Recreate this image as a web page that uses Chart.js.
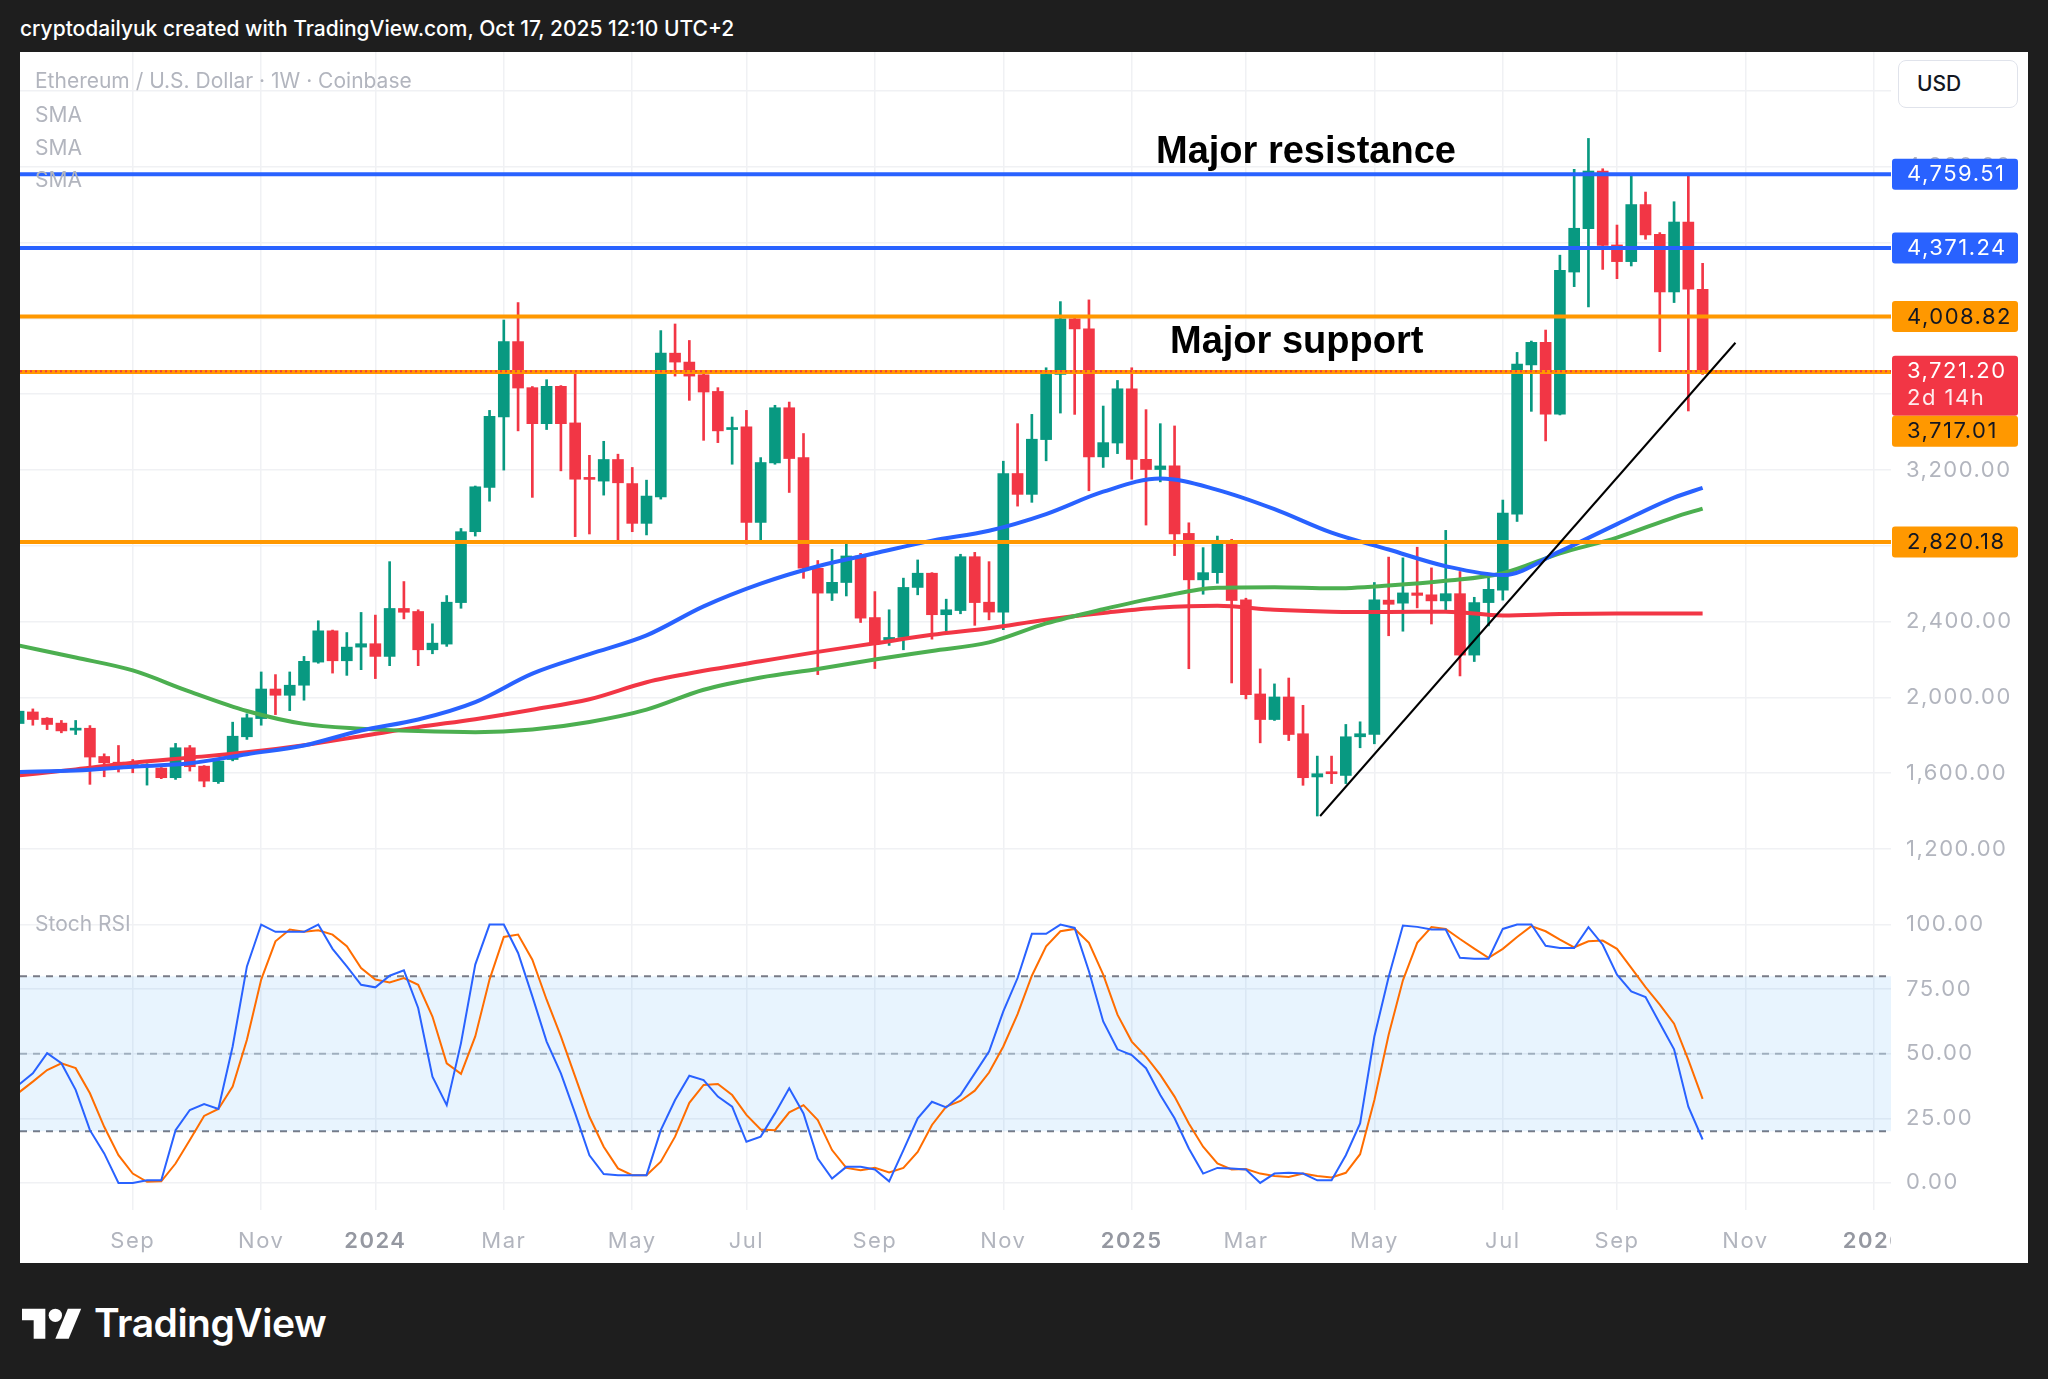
<!DOCTYPE html>
<html lang="en">
<head>
<meta charset="utf-8">
<title>Ethereum / U.S. Dollar 1W</title>
<script src="https://cdn.jsdelivr.net/npm/chart.js@4.4.1/dist/chart.umd.min.js"></script>
<style>
  html, body { margin: 0; padding: 0; }
  body {
    width: 2048px; height: 1379px; overflow: hidden; position: relative;
    background: #1e1e1e; font-family: Inter, "Noto Sans", sans-serif;
  }
  .snap-title { position: absolute; left: 20px; top: 15px; color: #fff; font-size: 21px; font-weight: 500; line-height: 28px; white-space: nowrap; }
  .panel { position: absolute; left: 20px; top: 52px; width: 2008px; height: 1211px; background: #fff; overflow: hidden; }
  .panel canvas { position: absolute; left: 0; }
  #priceChart { top: 0; }
  #rsiChart { top: 840px; }
  .legend { position: absolute; left: 15px; color: #b2b5be; font-size: 21px; line-height: 26px; white-space: nowrap; }
  .note { position: absolute; color: #000; font-family: "Liberation Sans", Arial, sans-serif; font-weight: bold; font-size: 38px; line-height: 44px; white-space: nowrap; }
  .usd { position: absolute; left: 1878px; top: 8px; width: 118px; height: 46px; border: 1px solid #e0e3eb; border-radius: 8px; background: #fff;
         color: #131722; font-size: 21px; font-weight: 500; line-height: 46px; text-indent: 18px; }
  .brand { position: absolute; left: 22px; top: 1300px; height: 44px; display: flex; align-items: center; color: #fff; }
  .brand span { font-size: 39px; font-weight: 600; letter-spacing: -0.5px; margin-left: 12px; }
</style>
</head>
<body>
<div class="snap-title">cryptodailyuk created with TradingView.com, Oct 17, 2025 12:10 UTC+2</div>

<div class="panel">
  <canvas id="priceChart" width="2008" height="840"></canvas>
  <canvas id="rsiChart" width="2008" height="371"></canvas>

  <div class="legend" style="top:16px">Ethereum / U.S. Dollar · 1W · Coinbase</div>
  <div class="legend" style="top:50px">SMA</div>
  <div class="legend" style="top:83px">SMA</div>
  <div class="legend" style="top:115px">SMA</div>
  <div class="note" style="left:1136px; top:76px">Major resistance</div>
  <div class="note" style="left:1150px; top:266px">Major support</div>
  <div class="usd">USD</div>
  <div class="legend" style="top:859px">Stoch RSI</div>
</div>

<div class="brand">
  <svg width="60" height="34" viewBox="0 0 36 20" fill="#fff">
    <path d="M14 20H7V9H0V2h14v18z"/>
    <circle cx="20" cy="6" r="4"/>
    <path d="M28 20h-8l7.5-18h8L28 20z"/>
  </svg>
  <span>TradingView</span>
</div>

<script>
'use strict';

// weekly candles, first week = 10 Jul 2023, last = 13 Oct 2025 (x = week index)
var opens = [
  1862, 1923, 1890, 1864, 1827, 1837, 1688, 1658, 1650, 1634,
  1627, 1576, 1734, 1637, 1555, 1672, 1792, 1888, 2044, 2011,
  2064, 2186, 2351, 2193, 2265, 2283, 2216, 2469, 2453, 2251,
  2281, 2500, 2874, 3107, 3479, 3877, 3634, 3444, 3641, 3448,
  3155, 3141, 3255, 3128, 2918, 3058, 3816, 3769, 3702, 3614,
  3413, 3427, 2923, 3237, 3528, 3265, 2681, 2550, 2606, 2746,
  2421, 2304, 2316, 2580, 2655, 2436, 2458, 2742, 2502, 2450,
  3181, 3071, 3360, 3704, 3997, 3944, 3269, 3342, 3628, 3256,
  3202, 3221, 2865, 2620, 2658, 2816, 2514, 2018, 1883, 2002,
  1808, 1580, 1602, 1588, 1792, 1804, 2513, 2497, 2551, 2541,
  2509, 2547, 2223, 2500, 2566, 2966, 3754, 3873, 3494, 4244,
  4473, 4777, 4387, 4299, 4600, 4443, 4139, 4508, 4153
];
var highs = [
  1940, 1939, 1893, 1878, 1878, 1851, 1702, 1746, 1672, 1650,
  1630, 1757, 1746, 1640, 1672, 1869, 1913, 2134, 2120, 2134,
  2216, 2404, 2355, 2342, 2448, 2434, 2716, 2611, 2462, 2388,
  2537, 2891, 3115, 3514, 3991, 4083, 3640, 3676, 3645, 3716,
  3277, 3351, 3283, 3213, 3146, 3935, 3970, 3883, 3705, 3634,
  3479, 3514, 3265, 3541, 3558, 3392, 2722, 2781, 2816, 2760,
  2558, 2462, 2629, 2725, 2658, 2518, 2755, 2765, 2716, 3246,
  3444, 3493, 3739, 4088, 4002, 4097, 3537, 3672, 3739, 3518,
  3444, 3432, 2921, 2790, 2851, 2834, 2523, 2150, 2071, 2102,
  1958, 1690, 1690, 1857, 1871, 2606, 2740, 2736, 2792, 2683,
  2881, 2664, 2528, 2632, 3041, 3820, 3880, 3938, 4333, 4786,
  4949, 4789, 4492, 4759, 4666, 4452, 4615, 4756, 4290
];
var lows = [
  1850, 1853, 1830, 1813, 1804, 1541, 1581, 1606, 1602, 1537,
  1571, 1567, 1611, 1528, 1546, 1665, 1778, 1853, 1909, 1930,
  1985, 2180, 2128, 2116, 2146, 2099, 2167, 2414, 2167, 2230,
  2269, 2470, 2851, 3035, 3199, 3406, 3055, 3413, 3195, 2848,
  2862, 3067, 2813, 2874, 2857, 3046, 3695, 3567, 3356, 3344,
  3230, 2809, 2818, 3230, 3081, 2628, 2120, 2511, 2535, 2395,
  2152, 2274, 2251, 2541, 2307, 2348, 2441, 2380, 2409, 2357,
  3009, 3029, 3248, 3500, 3493, 3090, 3213, 3286, 3151, 2909,
  3137, 2748, 2151, 2544, 2602, 2076, 1992, 1760, 1878, 1772,
  1536, 1374, 1545, 1545, 1734, 1755, 2325, 2349, 2472, 2387,
  2453, 2113, 2189, 2377, 2513, 2928, 3509, 3353, 3490, 4167,
  4060, 4258, 4209, 4276, 4417, 3824, 4083, 3511, 3704
];
var closes = [
  1927, 1883, 1857, 1823, 1837, 1685, 1655, 1643, 1637, 1640,
  1576, 1734, 1634, 1558, 1664, 1795, 1892, 2044, 2011, 2064,
  2190, 2351, 2193, 2265, 2283, 2216, 2469, 2449, 2251, 2286,
  2502, 2874, 3111, 3483, 3877, 3632, 3444, 3641, 3444, 3151,
  3150, 3255, 3132, 2918, 3062, 3816, 3769, 3695, 3611, 3406,
  3423, 2923, 3239, 3528, 3260, 2681, 2550, 2607, 2746, 2418,
  2287, 2316, 2580, 2655, 2436, 2462, 2742, 2500, 2450, 3181,
  3071, 3362, 3704, 3997, 3944, 3269, 3344, 3628, 3256, 3202,
  3221, 2862, 2620, 2658, 2816, 2511, 2014, 1883, 2002, 1804,
  1576, 1597, 1597, 1792, 1808, 2514, 2491, 2551, 2538, 2509,
  2547, 2223, 2500, 2570, 2972, 3758, 3873, 3494, 4253, 4475,
  4777, 4385, 4299, 4600, 4440, 4139, 4508, 4153, 3721.2
];

// moving averages, read every 4 weeks
var smaWeeks = [0, 4, 8, 12, 16, 20, 24, 28, 32, 36, 40, 44, 48, 52, 56, 60,
  64, 68, 72, 76, 80, 84, 88, 92, 96, 100, 104, 108, 112, 116, 118];
var smaBlue = [1606, 1614, 1634, 1652, 1700, 1746, 1825, 1883, 1975, 2125, 2228, 2327, 2480, 2600, 2692, 2760,
  2827, 2879, 2967, 3085, 3155, 3095, 2993, 2869, 2780, 2692, 2645, 2770, 2914, 3054, 3105];
var smaGreen = [2274, 2210, 2142, 2030, 1928, 1860, 1835, 1822, 1816, 1830, 1870, 1935, 2040, 2105, 2150, 2200,
  2245, 2290, 2390, 2465, 2530, 2578, 2581, 2575, 2590, 2615, 2655, 2760, 2843, 2950, 2996];
var smaRed = [1588, 1620, 1655, 1682, 1710, 1748, 1795, 1843, 1885, 1935, 1990, 2080, 2140, 2190, 2240, 2285,
  2330, 2365, 2410, 2445, 2474, 2483, 2462, 2452, 2450, 2452, 2432, 2440, 2443, 2443, 2443];

// Stoch RSI %K / %D, one value per week
var rsiK = [
  37.9, 42.4, 50.2, 46.3, 36, 20.4, 11.4, 0, 0, 1,
  1, 20.4, 28.2, 30.5, 28.6, 52.8, 83.8, 100, 97.2, 97.2,
  97.2, 100, 90.6, 83.8, 76.7, 75.7, 80.2, 82.3, 67.7, 41.1,
  30.1, 54.1, 84.5, 100, 100, 89, 72.2, 54.7, 42.4, 26.9,
  10.7, 3.4, 3, 3, 3, 20.4, 32.1, 41.5, 39.8, 33.4,
  29.5, 15.9, 17.9, 26.9, 36.6, 26.9, 9.4, 1.7, 6.2, 6.2,
  5.2, 0.6, 12.7, 25, 31.4, 29.2, 34, 42.4, 50.8, 66.4,
  79.3, 96.4, 96.4, 100, 98.7, 81.9, 62.5, 51.7, 49.5, 44.4,
  34, 25, 13.3, 3.6, 5.8, 5.6, 5.2, 0, 3.6, 3.9,
  3.6, 1, 1, 10.7, 23, 56.7, 79.7, 99.6, 99.1, 98.1,
  98.1, 87.1, 86.8, 86.8, 98.3, 100, 100, 91.8, 90.9, 90.9,
  99, 92.2, 80.6, 74.1, 71.9, 61.8, 51.7, 29.5, 16.8
];
var rsiD = [
  34.9, 39.2, 43.7, 46.3, 44.4, 34.7, 21.7, 10.7, 3.6, 0.4,
  0.6, 7.5, 16.6, 25.9, 28.6, 37.3, 55.4, 78.7, 93.5, 98.1,
  97.2, 97.8, 96.1, 91.6, 83.2, 78.7, 77.6, 79.3, 76.7, 64.4,
  46.3, 42.2, 56.7, 78.7, 95.2, 96.1, 86.4, 70.9, 56.7, 41.1,
  25.6, 14, 5.6, 3, 3, 8.2, 17.9, 31, 37.9, 38.3,
  34, 26.3, 20.7, 20.4, 27.3, 30.1, 24.3, 12.7, 5.8, 4.9,
  5.8, 4, 5.8, 12, 22.4, 29.5, 31.7, 35.7, 42.7, 52.8,
  65.3, 80.2, 91.6, 97.4, 98.3, 92.9, 80.6, 65.1, 54.7, 48.9,
  41.8, 33.4, 23, 14, 7.5, 5.2, 5.4, 3.6, 2.7, 2.3,
  3.6, 2.7, 2.1, 3.9, 11.1, 32.1, 57.3, 78.4, 92.9, 99,
  98.3, 94.4, 90.7, 87.1, 90.6, 95.2, 99.4, 97.4, 94.2, 91.2,
  93.5, 93.8, 90.6, 83.2, 75.8, 69, 61.6, 47.6, 32.5
];

// horizontal levels and the drawn trend line
var levelValues = [4759.51, 4371.24, 4008.82, 3717.01, 2820.18];
var levelColors = ['#2962ff', '#2962ff', '#ff9800', '#ff9800', '#ff9800'];
var trendWeeks = [91.2, 120.3];
var trendPrices = [1374, 3871];
var countdownLabel = '2d 14h';

// axis ticks
var monthTicks = [8, 17, 25, 34, 43, 51, 60, 69, 78, 86, 95, 104, 112, 121, 130];
var monthLabels = ['Sep', 'Nov', '2024', 'Mar', 'May', 'Jul', 'Sep', 'Nov', '2025', 'Mar', 'May', 'Jul', 'Sep', 'Nov', '2026'];
var priceTicks = [1200, 1600, 2000, 2400, 2800, 3200, 3600, 4000, 4400, 4800, 5200];
var rsiTicks = [0, 25, 50, 75, 100];
var rsiBands = [80, 50, 20];

var xMin = 0.1;
var xMax = 131.2;
var UP = '#089981';
var DOWN = '#f23645';
var GRID = '#f0f1f4';
var AXIS_TEXT = '#b2b5be';
var FONT = 'Inter, "Noto Sans", sans-serif';
var AXIS_WIDTH = 137;

Chart.defaults.font.family = FONT;
Chart.defaults.font.size = 22;

function fmtPrice(v) {
  return Number(v).toLocaleString('en-US', { minimumFractionDigits: 2, maximumFractionDigits: 2 });
}

function flatLine(value) {
  return [{ x: xMin, y: value }, { x: xMax, y: value }];
}

function pairPoints(xs, ys) {
  return xs.map(function (x, i) { return { x: x, y: ys[i] }; });
}

function weekPoints(values) {
  return values.map(function (v, i) { return { x: i, y: v }; });
}

function setTicks(list) {
  return function (scale) {
    scale.ticks = list.map(function (v) { return { value: v }; });
  };
}

// axes with fixed sizes and no extra label padding
function fitRightAxis(scale) {
  scale.width = AXIS_WIDTH;
  scale.paddingTop = 0;
  scale.paddingBottom = 0;
}

function fitBottomAxis(height) {
  return function (scale) {
    scale.height = height;
    scale.paddingLeft = 0;
    scale.paddingRight = 0;
  };
}

// TradingView axis text is spaced a little wider
var spacingPlugin = {
  id: 'letterSpacing',
  beforeDraw: function (chart) {
    chart.ctx.letterSpacing = '1.5px';
  }
};

// the time labels stop where the price scale begins
var timeAxisClipPlugin = {
  id: 'timeAxisClip',
  afterDraw: function (chart) {
    var area = chart.chartArea;
    var ctx = chart.ctx;
    ctx.save();
    ctx.fillStyle = '#fff';
    ctx.fillRect(area.right, area.bottom + 1, chart.width - area.right, chart.height - area.bottom);
    ctx.restore();
  }
};

var lastClose = closes[closes.length - 1];
var candleColors = closes.map(function (c, i) { return c >= opens[i] ? UP : DOWN; });

// Étiquettes de prix sur l'axe de droite
var priceLabelsPlugin = {
  id: 'priceLabels',
  afterDraw: function (chart) {
    var ctx = chart.ctx;
    var y = chart.scales.y;
    var left = chart.chartArea.right + 1;
    var width = 126;

    var labels = levelValues.map(function (v, k) {
      return { value: v, bg: levelColors[k], fg: levelColors[k] === '#ff9800' ? '#131722' : '#fff', lines: [fmtPrice(v)] };
    });
    labels.push({ value: lastClose, bg: DOWN, fg: '#fff', lines: [fmtPrice(lastClose), countdownLabel], current: true });

    labels.forEach(function (l) {
      l.height = l.lines.length > 1 ? 60 : 31;
      l.top = y.getPixelForValue(l.value) - 15.5;
    });
    labels.sort(function (a, b) { return a.top - b.top; });
    for (var i = 1; i < labels.length; i++) {
      var prev = labels[i - 1];
      if (labels[i].top < prev.top + prev.height) {
        labels[i].top = prev.top + prev.height;
      }
    }

    ctx.save();
    ctx.letterSpacing = '1.5px';
    ctx.font = '22px ' + FONT;
    ctx.textBaseline = 'middle';
    labels.forEach(function (l) {
      ctx.fillStyle = l.bg;
      ctx.beginPath();
      if (ctx.roundRect) {
        ctx.roundRect(left, l.top, width, l.height, 3);
      } else {
        ctx.rect(left, l.top, width, l.height);
      }
      ctx.fill();
      l.lines.forEach(function (text, k) {
        ctx.fillStyle = k === 0 ? l.fg : 'rgba(255,255,255,0.9)';
        ctx.fillText(text, left + 15, l.top + 16 + k * 27);
      });
    });
    ctx.restore();
  }
};

var priceDatasets = [
  {
    label: 'wicks',
    data: highs.map(function (h, i) { return { x: i, y: [lows[i], h] }; }),
    backgroundColor: candleColors,
    barThickness: 2,
    grouped: false,
    order: 10
  },
  {
    label: 'bodies',
    data: opens.map(function (o, i) { return { x: i, y: [o, closes[i]] }; }),
    backgroundColor: candleColors,
    barThickness: 11,
    minBarLength: 2,
    grouped: false,
    order: 9
  },
  { type: 'line', label: 'SMA red', data: pairPoints(smaWeeks, smaRed), borderColor: '#f23645', borderWidth: 4, pointRadius: 0, cubicInterpolationMode: 'monotone', order: 6 },
  { type: 'line', label: 'SMA green', data: pairPoints(smaWeeks, smaGreen), borderColor: '#4caf50', borderWidth: 4, pointRadius: 0, cubicInterpolationMode: 'monotone', order: 5 },
  { type: 'line', label: 'SMA blue', data: pairPoints(smaWeeks, smaBlue), borderColor: '#2962ff', borderWidth: 4, pointRadius: 0, cubicInterpolationMode: 'monotone', order: 4 }
];

levelValues.forEach(function (v, k) {
  priceDatasets.push({ type: 'line', label: 'level ' + v, data: flatLine(v), borderColor: levelColors[k], borderWidth: 4, pointRadius: 0, order: 3 });
});
priceDatasets.push({ type: 'line', label: 'last', data: flatLine(lastClose), borderColor: DOWN, borderWidth: 2, borderDash: [2, 3], pointRadius: 0, order: 2 });
priceDatasets.push({ type: 'line', label: 'trend', data: pairPoints(trendWeeks, trendPrices), borderColor: '#000', borderWidth: 2, pointRadius: 0, order: 1 });

new Chart(document.getElementById('priceChart'), {
  type: 'bar',
  data: { datasets: priceDatasets },
  options: {
    responsive: false,
    animation: false,
    events: [],
    layout: { padding: 0 },
    plugins: { legend: { display: false }, tooltip: { enabled: false } },
    scales: {
      x: {
        type: 'linear', min: xMin, max: xMax, bounds: 'data', offset: false,
        afterBuildTicks: setTicks(monthTicks),
        afterFit: fitBottomAxis(0),
        grid: { color: GRID, lineWidth: 1.5, drawTicks: false, offset: false },
        border: { display: false },
        ticks: { display: false }
      },
      y: {
        position: 'right', min: 973, max: 5405, bounds: 'data',
        afterBuildTicks: setTicks(priceTicks),
        afterFit: fitRightAxis,
        grid: { color: GRID, lineWidth: 1.5, drawTicks: false },
        border: { display: false },
        ticks: { color: AXIS_TEXT, padding: 15, callback: fmtPrice }
      }
    }
  },
  plugins: [spacingPlugin, priceLabelsPlugin]
});

// Stoch RSI pane
var rsiDatasets = [
  { label: 'band 80', data: flatLine(rsiBands[0]), borderColor: '#787b86', borderWidth: 2, borderDash: [7, 6], pointRadius: 0, fill: { value: rsiBands[2] }, backgroundColor: 'rgba(33,150,243,0.1)', order: 5 },
  { label: 'band 50', data: flatLine(rsiBands[1]), borderColor: 'rgba(120,123,134,0.55)', borderWidth: 2, borderDash: [7, 6], pointRadius: 0, order: 5 },
  { label: 'band 20', data: flatLine(rsiBands[2]), borderColor: '#787b86', borderWidth: 2, borderDash: [7, 6], pointRadius: 0, order: 5 },
  { label: '%D', data: weekPoints(rsiD), borderColor: '#ff6d00', borderWidth: 2, pointRadius: 0, order: 2 },
  { label: '%K', data: weekPoints(rsiK), borderColor: '#2962ff', borderWidth: 2, pointRadius: 0, order: 1 }
];

function monthLabelAt(value) {
  var k = monthTicks.indexOf(value);
  return k >= 0 ? monthLabels[k] : '';
}

function isYearTick(ctx) {
  return !!(ctx && ctx.tick) && /^\d{4}$/.test(monthLabelAt(ctx.tick.value));
}

new Chart(document.getElementById('rsiChart'), {
  type: 'line',
  data: { datasets: rsiDatasets },
  options: {
    responsive: false,
    animation: false,
    events: [],
    layout: { padding: 0 },
    plugins: { legend: { display: false }, tooltip: { enabled: false } },
    scales: {
      x: {
        type: 'linear', min: xMin, max: xMax, bounds: 'data',
        afterBuildTicks: setTicks(monthTicks),
        afterFit: fitBottomAxis(53),
        grid: { color: GRID, lineWidth: 1.5, drawTicks: false },
        border: { display: false },
        ticks: {
          padding: 18,
          maxRotation: 0,
          autoSkip: false,
          callback: monthLabelAt,
          color: function (ctx) { return isYearTick(ctx) ? '#9598a1' : AXIS_TEXT; },
          font: function (ctx) { return { size: 22, weight: isYearTick(ctx) ? '600' : '400' }; }
        }
      },
      y: {
        position: 'right', min: -10.5, max: 112.6, bounds: 'data',
        afterBuildTicks: setTicks(rsiTicks),
        afterFit: fitRightAxis,
        grid: { color: GRID, lineWidth: 1.5, drawTicks: false },
        border: { display: false },
        ticks: { color: AXIS_TEXT, padding: 15, callback: function (v) { return Number(v).toFixed(2); } }
      }
    }
  },
  plugins: [spacingPlugin, timeAxisClipPlugin]
});
</script>
</body>
</html>
